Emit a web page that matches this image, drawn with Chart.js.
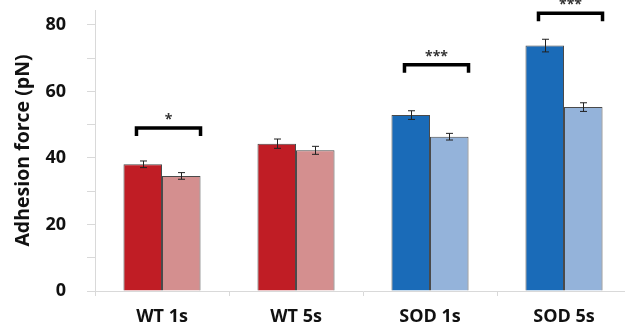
<!DOCTYPE html>
<html>
<head>
<meta charset="utf-8">
<script src="https://cdn.jsdelivr.net/npm/chart.js@4/dist/chart.umd.min.js"></script>
<style>
html,body{margin:0;padding:0;background:#fff;overflow:hidden;width:625px;height:331px;}
#wrap{position:absolute;left:0;top:0;width:632px;height:331px;}
</style>
</head>
<body>
<div id="wrap"><canvas id="c" width="632" height="331"></canvas></div>
<script>
const categories = ["WT 1s", "WT 5s", "SOD 1s", "SOD 5s"];
const darkValues = [38.1, 44.3, 52.9, 73.8];
const lightValues = [34.6, 42.3, 46.4, 55.3];
const darkErrors = [1.0, 1.4, 1.3, 1.9];
const lightErrors = [1.0, 1.2, 1.0, 1.3];
const yTickLabels = [0, 20, 40, 60, 80];
const bracketCats = [0, 2, 3];
const bracketLevels = [49, 68, 83.5];
const bracketLabels = ["*", "***", "***"];

const darkColors = ["#C01D25", "#C01D25", "#1A6BB8", "#1A6BB8"];
const lightColors = ["#D48F8F", "#D48F8F", "#94B3DA", "#94B3DA"];

const overlay = {
  id: 'overlay',
  afterDatasetsDraw(chart) {
    const ctx = chart.ctx;
    const y = chart.scales.y;
    const errs = [darkErrors, lightErrors];
    const vals = [darkValues, lightValues];
    ctx.save();
    ctx.strokeStyle = '#222';
    ctx.lineWidth = 1;
    for (let d = 0; d < 2; d++) {
      const meta = chart.getDatasetMeta(d);
      meta.data.forEach((bar, i) => {
        const x = Math.round(bar.x) + 0.5;
        const top = y.getPixelForValue(vals[d][i] + errs[d][i]);
        const bot = y.getPixelForValue(vals[d][i] - errs[d][i]);
        ctx.beginPath();
        ctx.moveTo(x, top); ctx.lineTo(x, bot);
        ctx.moveTo(x - 3.5, top); ctx.lineTo(x + 3.5, top);
        ctx.moveTo(x - 3.5, bot); ctx.lineTo(x + 3.5, bot);
        ctx.stroke();
      });
    }
    ctx.strokeStyle = '#000';
    ctx.lineWidth = 3.5;
    ctx.lineJoin = 'miter';
    ctx.fillStyle = '#333';
    ctx.font = 'bold 14px "Open Sans", sans-serif';
    ctx.textAlign = 'center';
    ctx.textBaseline = 'alphabetic';
    bracketCats.forEach((c, k) => {
      const b0 = chart.getDatasetMeta(0).data[c];
      const b1 = chart.getDatasetMeta(1).data[c];
      const x0 = b0.x - b0.width / 2 + 13;
      const x1 = b1.x + b1.width / 2;
      const yy = y.getPixelForValue(bracketLevels[k]);
      ctx.beginPath();
      ctx.moveTo(x0, yy + 8);
      ctx.lineTo(x0, yy);
      ctx.lineTo(x1, yy);
      ctx.lineTo(x1, yy + 8);
      ctx.stroke();
      ctx.fillText(bracketLabels[k], (x0 + x1) / 2, yy - 4);
    });
    ctx.restore();
  }
};

new Chart(document.getElementById('c'), {
  type: 'bar',
  data: {
    labels: categories,
    datasets: [
      { data: darkValues, backgroundColor: darkColors, borderColor: '#4a4a4a', borderWidth: 1 },
      { data: lightValues, backgroundColor: lightColors, borderColor: '#4a4a4a', borderWidth: 1 }
    ]
  },
  options: {
    responsive: false,
    animation: false,
    devicePixelRatio: 1,
    layout: { padding: { top: 10, right: 1, left: 0, bottom: 0 } },
    plugins: { legend: { display: false }, tooltip: { enabled: false } },
    datasets: { bar: { categoryPercentage: 0.575, barPercentage: 1.0 } },
    scales: {
      x: {
        grid: { display: true, drawOnChartArea: false, offset: true, tickLength: 5, color: '#d9d9d9' },
        border: { color: '#d9d9d9', width: 1 },
        afterFit(axis) { axis.paddingLeft = 0; axis.paddingRight = 0; axis.height = 40; },
        ticks: { color: '#111', font: { family: '"Open Sans", sans-serif', size: 18, weight: 'bold' }, padding: 10 }
      },
      y: {
        min: 0, max: 84.5,
        grid: { display: true, drawOnChartArea: false, tickLength: 8, color: '#d9d9d9' },
        border: { color: '#d9d9d9', width: 1 },
        afterFit(axis) { axis.width = 95; axis.paddingTop = 0; axis.paddingBottom = 0; },
        ticks: {
          stepSize: 10,
          includeBounds: false,
          autoSkip: false,
          color: '#111',
          font: { family: '"Open Sans", sans-serif', size: 18, weight: 'bold' },
          padding: 21,
          callback: v => yTickLabels.includes(v) ? String(v) : ''
        },
        title: {
          display: true, text: 'Adhesion force (pN)', color: '#111',
          font: { family: '"Open Sans", sans-serif', size: 19.5, weight: 'bold' },
          padding: { top: 12, bottom: 0 }
        }
      }
    }
  },
  plugins: [overlay]
});
</script>
</body>
</html>
